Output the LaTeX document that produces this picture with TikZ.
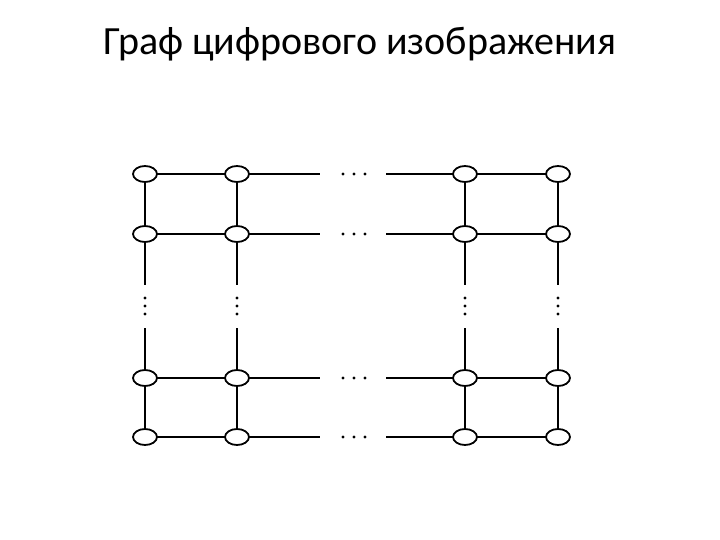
\documentclass[tikz,border=0pt]{standalone}
\usepackage{fontspec}
\setmainfont{Carlito}
\usetikzlibrary{shapes.geometric}
\begin{document}
\begin{tikzpicture}[x=1pt,y=-1pt,
  vert/.style={ellipse,draw,line width=1.8pt,fill=white,minimum width=24pt,minimum height=16pt,inner sep=0pt},
  edge/.style={line width=1.5pt},
  thick edge/.style={line width=2.4pt},
  dot/.style={circle,fill=black,inner sep=0pt,minimum size=3.2pt}]
\useasboundingbox (0,0) rectangle (720,540);
\node (title) at (360,44) {\fontsize{40}{48}\selectfont Граф цифрового изображения};
\def\xs{{145,237,465,558}}
\def\ys{{174,234,378,437}}
\foreach \i in {0,...,3}{
  \foreach \j in {0,...,3}{
    \pgfmathsetmacro\xx{\xs[\i]}
    \pgfmathsetmacro\yy{\ys[\j]}
    \coordinate (p\i\j) at (\xx,\yy);
  }
}
\foreach \j in {0,...,3}{
  \pgfmathsetmacro\yy{\ys[\j]}
  \coordinate (hl\j) at (320,\yy);
  \coordinate (hr\j) at (386,\yy);
  \draw[edge] (p0\j) -- (p1\j) -- (hl\j);
  \draw[edge] (hr\j) -- (p2\j) -- (p3\j);
  \foreach \d in {343,354,365} \node[dot] (hd\j\d) at (\d,\yy) {};
}
\foreach \i/\st in {0/thick edge,1/edge,2/edge,3/thick edge}{
  \pgfmathsetmacro\xx{\xs[\i]}
  \coordinate (vt\i) at (\xx,285);
  \coordinate (vb\i) at (\xx,328);
  \draw[\st] (p\i0) -- (p\i1) -- (vt\i);
  \draw[\st] (vb\i) -- (p\i2) -- (p\i3);
  \foreach \d in {298,306,314} \node[dot] (vd\i\d) at (\xx,\d) {};
}
\foreach \i in {0,...,3}{
  \foreach \j in {0,...,3}{
    \node[vert] (n\i\j) at (p\i\j) {};
  }
}
\end{tikzpicture}
\end{document}
